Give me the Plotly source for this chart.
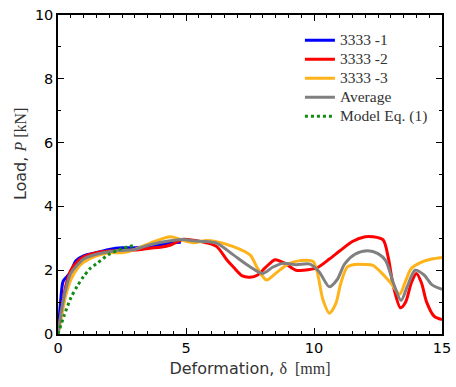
import plotly.graph_objects as go

# ---- data ----
x1 = [0, 0.1, 0.2, 0.35, 0.5, 0.7, 1.0, 1.5, 2.0, 2.5, 3.0, 3.5, 4.0, 4.5, 4.8]
y1 = [0, 1.0, 1.65, 1.8, 1.95, 2.3, 2.45, 2.55, 2.65, 2.7, 2.7, 2.75, 2.8, 2.86, 2.88]

x2 = [0, 0.15, 0.3, 0.5, 0.8, 1.0, 1.5, 2.0, 2.5, 3.0, 3.6, 4.0, 4.4, 4.9, 5.3, 5.8, 6.2, 6.6, 6.85, 7.2, 7.5,
      7.8, 8.1, 8.48, 8.85, 9.3, 9.6, 10.1, 10.6, 11.0, 11.5, 12.0, 12.3, 12.7, 12.9, 13.1, 13.38,
      13.58, 13.8, 14.0, 14.2, 14.4, 14.7, 15.0]
y2 = [0, 0.8, 1.5, 2.0, 2.3, 2.42, 2.55, 2.6, 2.62, 2.63, 2.69, 2.72, 2.79, 2.97, 2.94, 2.86, 2.74, 2.32, 2.1, 1.82, 1.78,
      1.85, 2.08, 2.33, 2.22, 2.0, 2.0, 2.07, 2.35, 2.6, 2.9, 3.05, 3.05, 2.95, 2.4, 1.5, 0.82,
      1.0, 1.6, 1.9, 1.6, 1.0, 0.55, 0.45]

x3 = [0, 0.15, 0.3, 0.5, 0.8, 1.0, 1.5, 2.0, 2.5, 3.0, 3.6, 4.4, 4.9, 5.3, 5.8, 6.2, 6.85, 7.5, 7.76,
      8.0, 8.15, 8.5, 9.0, 9.45, 9.97, 10.35, 10.6, 10.85, 11.05, 11.3, 11.6, 12.0, 12.3, 12.6,
      13.0, 13.35, 13.55, 13.8, 14.2, 14.6, 15.0]
y3 = [0, 0.6, 1.2, 1.7, 2.1, 2.25, 2.45, 2.55, 2.55, 2.65, 2.85, 3.05, 2.93, 2.86, 2.93, 2.89, 2.74, 2.48, 2.11,
      1.8, 1.69, 1.9, 2.2, 2.3, 2.27, 1.07, 0.65, 0.95, 1.6, 2.1, 2.18, 2.18, 2.15, 1.95,
      1.6, 1.25, 1.6, 2.05, 2.25, 2.35, 2.4]

xa = [0, 0.15, 0.3, 0.5, 0.8, 1.0, 1.5, 2.0, 2.5, 3.0, 3.6, 4.4, 4.9, 5.3, 5.8, 6.2, 6.85, 7.5, 8.0,
      8.4, 8.8, 9.3, 9.84, 10.2, 10.6, 10.9, 11.2, 11.6, 12.1, 12.5, 12.8, 13.1, 13.4, 13.65, 13.95,
      14.3, 14.6, 15.0]
ya = [0, 0.8, 1.4, 1.9, 2.2, 2.35, 2.5, 2.58, 2.62, 2.65, 2.8, 2.92, 2.96, 2.92, 2.9, 2.85, 2.48, 2.11, 1.9,
      2.1, 2.22, 2.17, 2.19, 1.95, 1.48, 1.7, 2.2, 2.5, 2.61, 2.52, 2.3, 1.6, 1.05, 1.5, 2.0,
      1.85, 1.55, 1.4]

xm = [0, 0.25, 0.5, 0.75, 1.0, 1.25, 1.5, 2.0, 2.5, 3.0]
ym = [0, 0.6, 1.13, 1.5, 1.8, 2.05, 2.2, 2.5, 2.68, 2.78]

x_ticks = [0, 5, 10, 15]
y_ticks = [0, 2, 4, 6, 8, 10]

SERIF = "Liberation Serif, Times New Roman, serif"
SANS = "DejaVu Sans, Arial, sans-serif"

fig = go.Figure()
series = [
    (x1, y1, "3333 -1", "#0000ff", "solid"),
    (x2, y2, "3333 -2", "#ff0000", "solid"),
    (x3, y3, "3333 -3", "#ffb31a", "solid"),
    (xa, ya, "Average", "#808080", "solid"),
    (xm, ym, "Model Eq. (1)", "#138a13", "dot"),
]
for xs, ys, name, col, dash in series:
    fig.add_trace(go.Scatter(
        x=xs, y=ys, mode="lines",
        name='<span style="font-size:15.5px">' + name + '</span>',
        line=dict(color=col, width=3, dash=dash, shape="spline", smoothing=0.8),
    ))

axis_common = dict(
    showline=True, linecolor="black", linewidth=1.5, mirror="allticks",
    ticks="inside", ticklen=6, tickwidth=1, tickcolor="black",
    showgrid=False, zeroline=False, automargin=False,
    tickfont=dict(family=SANS, size=14.5, color="black"),
)
fig.update_xaxes(
    range=[0, 15], tickvals=x_ticks,
    minor=dict(dtick=0.5, ticks="inside", ticklen=3, tickcolor="black", showgrid=False),
    title=dict(text='Deformation, <span style="font-family:Liberation Serif">δ  [mm]</span>',
               font=dict(family=SANS, size=16, color="#333333"), standoff=8),
    **axis_common,
)
fig.update_yaxes(
    range=[0, 10], tickvals=y_ticks,
    minor=dict(dtick=1, ticks="inside", ticklen=3, tickcolor="black", showgrid=False),
    **axis_common,
)
fig.add_annotation(
    xref="paper", yref="paper", x=-0.099, y=0.567, textangle=-90,
    xanchor="center", yanchor="middle", showarrow=False,
    text='Load, <span style="font-family:Liberation Serif"><i>P</i> [kN]</span>',
    font=dict(family=SANS, size=16, color="#333333"),
)
fig.update_layout(
    template="none",
    width=456, height=387,
    margin=dict(l=58, r=14, t=15, b=53),
    plot_bgcolor="white", paper_bgcolor="white",
    showlegend=True,
    legend=dict(
        x=0.63, y=0.966, xanchor="left", yanchor="top",
        bgcolor="rgba(0,0,0,0)",
        font=dict(family=SERIF, size=12, color="#333333"),
        tracegroupgap=0, itemwidth=30,
    ),
)
fig.write_html("out.html", config={"displayModeBar": False},
               post_script="document.body.style.margin='0px';")
